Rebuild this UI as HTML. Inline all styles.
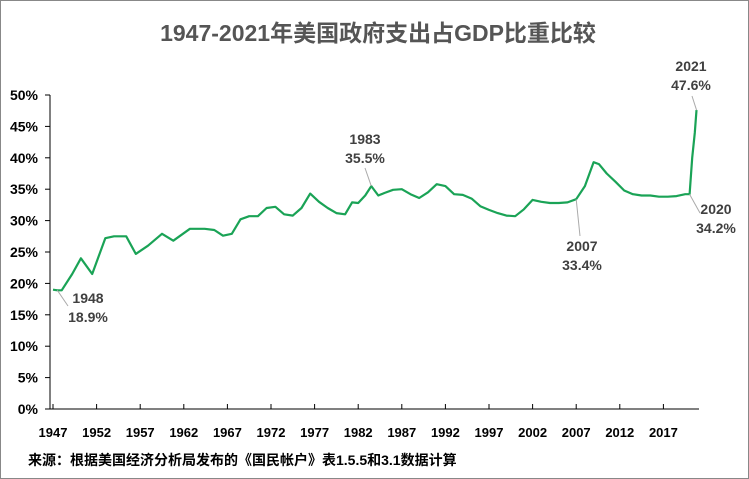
<!DOCTYPE html>
<html><head><meta charset="utf-8"><style>
body{margin:0;background:#fff}
svg{display:block;font-family:"Liberation Sans","Noto Sans CJK SC",sans-serif}
</style></head><body>
<svg width="749" height="479" id="c">
<rect x="0.5" y="0.5" width="748" height="478" fill="#fff" stroke="#888"/>
<text x="378" y="41" text-anchor="middle" font-size="23" font-weight="bold" fill="#555">1947-2021年美国政府支出占GDP比重比较</text>
<text x="28" y="465" font-size="14" font-weight="bold" fill="#000">来源：根据美国经济分析局发布的《国民帐户》表1.5.5和3.1数据计算</text>
<g id="axes"></g>
<g id="plot"></g>
</svg>
<script>
const yTicks=[0,5,10,15,20,25,30,35,40,45,50];
const xTickYears=[1947,1952,1957,1962,1967,1972,1977,1982,1987,1992,1997,2002,2007,2012,2017];
const years=[1947,1947.5,1948,1949.2,1950.2,1951.5,1953,1954,1955.4,1956.5,1957.9,1959.5,1960.8,1962.7,1964.4,1965.5,1966.5,1967.5,1968.5,1969.5,1970.5,1971.5,1972.5,1973.5,1974.5,1975.5,1976.5,1977.5,1978.5,1979.5,1980.5,1981.3,1982,1982.8,1983.5,1984.3,1985,1986,1987,1988,1989,1990,1991,1992,1993,1994,1995,1996,1997,1998,1999,2000,2001,2002,2003,2004,2005,2006,2007,2008,2009,2009.6,2010.5,2011.5,2012.5,2013.5,2014.5,2015.5,2016.5,2017.5,2018.5,2019.5,2020,2020.3,2020.6,2020.8];
const values=[19,18.9,18.9,21.5,24,21.5,27.2,27.5,27.5,24.7,26,27.9,26.8,28.7,28.7,28.5,27.6,27.9,30.2,30.7,30.7,32,32.2,31,30.8,32,34.3,33,32,31.2,31,32.9,32.8,34,35.5,34,34.4,34.9,35,34.2,33.6,34.5,35.8,35.5,34.2,34.1,33.5,32.3,31.7,31.2,30.8,30.7,31.8,33.3,33,32.8,32.8,32.9,33.4,35.5,39.3,39,37.5,36.2,34.8,34.2,34,34,33.8,33.8,33.9,34.2,34.2,40,44,47.6];
const labels=[
 {y:1947.5,v:"18.9%",t:"1948",lx:88,ly:303,ex:68,ey:306},
 {y:1983.5,v:"35.5%",t:"1983",lx:365,ly:144,ex:365,ey:168},
 {y:2007,v:"33.4%",t:"2007",lx:582,ly:251,ex:580,ey:236},
 {y:2020,v:"34.2%",t:"2020",lx:716,ly:214,ex:700,ey:213},
 {y:2020.8,v:"47.6%",t:"2021",lx:691,ly:71,ex:692,ey:96}];
const NS="http://www.w3.org/2000/svg";
const X=t=>53+(t-1947)*8.72, Y=v=>409-v*6.28;
function mk(tag,at,par){const e=document.createElementNS(NS,tag);for(const k in at)e.setAttribute(k,at[k]);par.appendChild(e);return e;}
const ax=document.getElementById('axes'),pl=document.getElementById('plot');
let a=mk('line',{x1:50,y1:409,x2:699,y2:409,stroke:'#000','stroke-width':1},ax);


a=mk('line',{x1:50,y1:95,x2:50,y2:409,stroke:'#000','stroke-width':1},ax);


yTicks.forEach(v=>{
 const l=mk('line',{x1:45,x2:50,y1:Y(v),y2:Y(v),stroke:'#000'},ax);
 
 
 const t=mk('text',{x:38,y:Y(v)+5,'text-anchor':'end','font-size':14,'font-weight':'bold',fill:'#000'},ax);
 t.textContent=v+'%';
 
 
});
xTickYears.forEach(yr=>{
 const l=mk('line',{x1:X(yr),x2:X(yr),y1:404,y2:409,stroke:'#000'},ax);
 
 
 const t=mk('text',{x:X(yr),y:437,'text-anchor':'middle','font-size':13,'font-weight':'bold',fill:'#000'},ax);
 t.textContent=yr;
 
 
});
const p=mk('path',{d:years.map((t,i)=>(i?'L':'M')+X(t).toFixed(1)+','+Y(values[i]).toFixed(1)).join(''),fill:'none',stroke:'#1aa356','stroke-width':2.2,'stroke-linejoin':'round'},pl);


labels.forEach(o=>{
 const i=years.indexOf(o.y);const px=X(o.y),py=Y(values[i]);
 const l=mk('line',{x1:px,y1:py,x2:o.ex,y2:o.ey,stroke:'#aaa'},pl);
 
 
 const t1=mk('text',{x:o.lx,y:o.ly,'text-anchor':'middle','font-size':14,'font-weight':'bold',fill:'#404040'},pl);
 t1.textContent=o.t;
 
 
 const t2=mk('text',{x:o.lx,y:o.ly+19,'text-anchor':'middle','font-size':14,'font-weight':'bold',fill:'#404040'},pl);
 t2.textContent=o.v;
 
 
});
</script>
</body></html>
